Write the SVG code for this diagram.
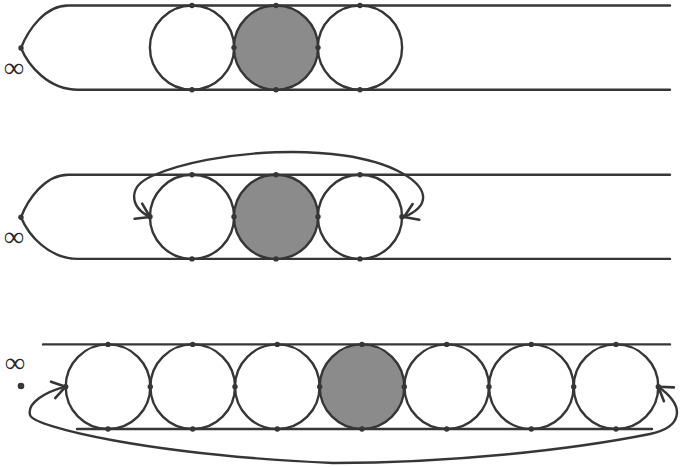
<svg xmlns="http://www.w3.org/2000/svg" width="680" height="467" viewBox="0 0 680 467">
<style>
.ln{fill:none;stroke:#363636;stroke-width:2.4;stroke-linejoin:round;stroke-linecap:round}
.c{fill:none;stroke:#363636;stroke-width:2.4}
.s{fill:#8b8b8b;stroke:#363636;stroke-width:2.4}
.d{fill:#363636}
.inf{font-family:"Liberation Serif","DejaVu Serif",serif;font-size:28px;font-weight:bold;fill:#2a2a2a;text-anchor:middle}
</style>
<defs>
<marker id="ah" markerUnits="userSpaceOnUse" orient="auto-start-reverse" markerWidth="30" markerHeight="30" refX="0" refY="0" overflow="visible">
<path d="M-13,-8.5 L0,0 L-13,8.5" fill="none" stroke="#363636" stroke-width="2.6" stroke-linecap="round" stroke-linejoin="round"/>
</marker>
</defs>
<rect width="680" height="467" fill="#ffffff"/>

<g id="panel1">
<path class="ln" d="M670,5.5 H68 C45,5.5 28,30 21,48 C28,65 48,89.7 78,89.7 H670"/>
<g id="p1-c1"><circle class="c" cx="192" cy="47.6" r="42.1"/></g>
<g id="p1-c2"><circle class="s" cx="276" cy="47.6" r="42.1"/></g>
<g id="p1-c3"><circle class="c" cx="360" cy="47.6" r="42.1"/></g>
<g class="d">
<circle cx="21" cy="48" r="2.7"/>
<circle cx="192" cy="5.5" r="2.7"/><circle cx="192" cy="89.7" r="2.7"/>
<circle cx="276" cy="5.5" r="2.7"/><circle cx="276" cy="89.7" r="2.7"/>
<circle cx="360" cy="5.5" r="2.7"/><circle cx="360" cy="89.7" r="2.7"/>
<circle cx="234" cy="47.6" r="2.7"/><circle cx="318" cy="47.6" r="2.7"/>
</g>
<text class="inf" x="14" y="77">∞</text>
</g>

<g id="panel2" transform="translate(0,169.2)">
<path class="ln" d="M670,5.5 H68 C45,5.5 28,30 21,48 C28,65 48,89.7 78,89.7 H670"/>
<g id="p2-c1"><circle class="c" cx="192" cy="47.6" r="42.1"/></g>
<g id="p2-c2"><circle class="s" cx="276" cy="47.6" r="42.1"/></g>
<g id="p2-c3"><circle class="c" cx="360" cy="47.6" r="42.1"/></g>
<g class="d">
<circle cx="21" cy="48" r="2.7"/>
<circle cx="192" cy="5.5" r="2.7"/><circle cx="192" cy="89.7" r="2.7"/>
<circle cx="276" cy="5.5" r="2.7"/><circle cx="276" cy="89.7" r="2.7"/>
<circle cx="360" cy="5.5" r="2.7"/><circle cx="360" cy="89.7" r="2.7"/>
<circle cx="234" cy="47.6" r="2.7"/><circle cx="318" cy="47.6" r="2.7"/>
<circle cx="150" cy="47.6" r="2.7"/><circle cx="402" cy="47.6" r="2.7"/>
</g>
<text class="inf" x="14" y="77">∞</text>
</g>

<g id="panel3">
<path class="ln" d="M43,344.4 H670 M77,429 H652"/>
<g id="p3-c1"><circle class="c" cx="108" cy="386.7" r="42.3"/></g>
<g id="p3-c2"><circle class="c" cx="192.7" cy="386.7" r="42.3"/></g>
<g id="p3-c3"><circle class="c" cx="277.3" cy="386.7" r="42.3"/></g>
<g id="p3-c4"><circle class="s" cx="362" cy="386.7" r="42.3"/></g>
<g id="p3-c5"><circle class="c" cx="446.7" cy="386.7" r="42.3"/></g>
<g id="p3-c6"><circle class="c" cx="531.3" cy="386.7" r="42.3"/></g>
<g id="p3-c7"><circle class="c" cx="616" cy="386.7" r="42.3"/></g>
<g class="d">
<circle cx="108" cy="344.4" r="2.7"/><circle cx="108" cy="429" r="2.7"/>
<circle cx="192.7" cy="344.4" r="2.7"/><circle cx="192.7" cy="429" r="2.7"/>
<circle cx="277.3" cy="344.4" r="2.7"/><circle cx="277.3" cy="429" r="2.7"/>
<circle cx="362" cy="344.4" r="2.7"/><circle cx="362" cy="429" r="2.7"/>
<circle cx="446.7" cy="344.4" r="2.7"/><circle cx="446.7" cy="429" r="2.7"/>
<circle cx="531.3" cy="344.4" r="2.7"/><circle cx="531.3" cy="429" r="2.7"/>
<circle cx="616" cy="344.4" r="2.7"/><circle cx="616" cy="429" r="2.7"/>
<circle cx="65.7" cy="386.7" r="2.7"/><circle cx="150.3" cy="386.7" r="2.7"/>
<circle cx="235" cy="386.7" r="2.7"/><circle cx="319.7" cy="386.7" r="2.7"/>
<circle cx="404.3" cy="386.7" r="2.7"/><circle cx="489" cy="386.7" r="2.7"/>
<circle cx="573.7" cy="386.7" r="2.7"/><circle cx="658.3" cy="386.7" r="2.7"/>
<circle cx="21" cy="386" r="3.3"/>
</g>
<text class="inf" x="15" y="372">∞</text>
</g>

<g id="connectors">
<path class="ln" marker-start="url(#ah)" marker-end="url(#ah)" d="M150,217 C130,207 127,187 152,176 C210,150 340,140 400,172 C428,187 432,205 404,217"/>
<path class="ln" marker-start="url(#ah)" marker-end="url(#ah)" d="M65.7,386.7 C45,392 27,403 30,415 C33,427 150,455 333,463 C450,463 570,450 650,434 C680,428 688,408 658.3,386.7"/>
</g>
</svg>
